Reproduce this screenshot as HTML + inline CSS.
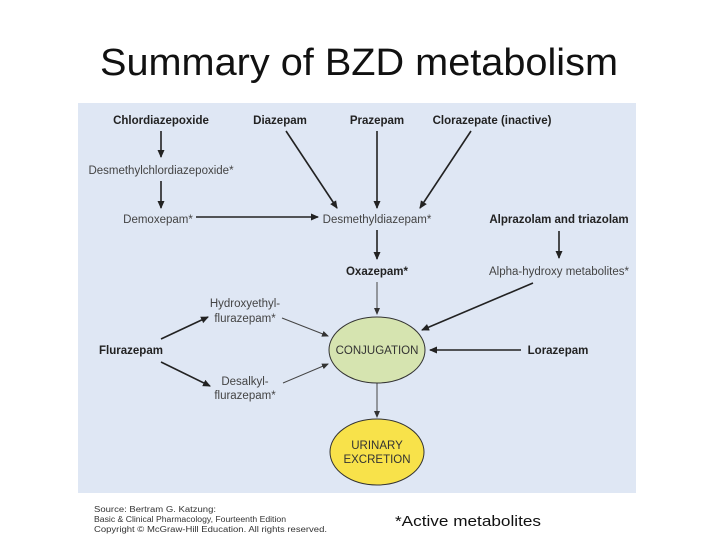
<!DOCTYPE html>
<html><head><meta charset="utf-8"><style>
body{margin:0;width:720px;height:540px;background:#fff;overflow:hidden}
</style></head><body>
<svg width="720" height="540" viewBox="0 0 720 540" xmlns="http://www.w3.org/2000/svg" font-family="Liberation Sans, sans-serif">
<defs>
<marker id="a" markerWidth="8" markerHeight="8" refX="7" refY="4" orient="auto" markerUnits="userSpaceOnUse"><path d="M0,0.5 L8,4 L0,7.5 Z" fill="#222"/></marker>
<marker id="b" markerWidth="7" markerHeight="7" refX="6" refY="3.5" orient="auto" markerUnits="userSpaceOnUse"><path d="M0,0.5 L7,3.5 L0,6.5 Z" fill="#333"/></marker>
</defs>
<text x="100" y="75" font-size="38" fill="#111" textLength="518" lengthAdjust="spacingAndGlyphs">Summary of BZD metabolism</text>
<rect x="78" y="103" width="558" height="390" fill="#dfe7f4"/>
<g font-size="11.5" fill="#222" text-anchor="middle">
<text x="161" y="124" font-weight="bold">Chlordiazepoxide</text>
<text x="280" y="124" font-weight="bold">Diazepam</text>
<text x="377" y="124" font-weight="bold">Prazepam</text>
<text x="492" y="124" font-weight="bold">Clorazepate (inactive)</text>
<text x="161" y="174" fill="#444">Desmethylchlordiazepoxide*</text>
<text x="158" y="223" fill="#444">Demoxepam*</text>
<text x="377" y="223" fill="#444">Desmethyldiazepam*</text>
<text x="559" y="223" font-weight="bold">Alprazolam and triazolam</text>
<text x="377" y="275" font-weight="bold">Oxazepam*</text>
<text x="559" y="275" fill="#444">Alpha-hydroxy metabolites*</text>
<text x="131" y="354" font-weight="bold">Flurazepam</text>
<text x="558" y="354" font-weight="bold">Lorazepam</text>
<text x="245" y="307" fill="#444">Hydroxyethyl-</text>
<text x="245" y="322" fill="#444">flurazepam*</text>
<text x="245" y="385" fill="#444">Desalkyl-</text>
<text x="245" y="399" fill="#444">flurazepam*</text>
</g>
<g stroke="#222" stroke-width="1.6" fill="none" marker-end="url(#a)">
<line x1="161" y1="131" x2="161" y2="157"/>
<line x1="161" y1="181" x2="161" y2="208"/>
<line x1="196" y1="217" x2="318" y2="217"/>
<line x1="286" y1="131" x2="337" y2="208"/>
<line x1="377" y1="131" x2="377" y2="208"/>
<line x1="471" y1="131" x2="420" y2="208"/>
<line x1="559" y1="231" x2="559" y2="258"/>
<line x1="377" y1="230" x2="377" y2="259"/>
<line x1="533" y1="283" x2="422" y2="330"/>
<line x1="521" y1="350" x2="430" y2="350"/>
<line x1="161" y1="339" x2="208" y2="317"/>
<line x1="161" y1="362" x2="210" y2="386"/>
</g>
<g stroke="#444" stroke-width="1" fill="none" marker-end="url(#b)">
<line x1="377" y1="282" x2="377" y2="314"/>
<line x1="282" y1="318" x2="328" y2="336"/>
<line x1="283" y1="383" x2="328" y2="364"/>
<line x1="377" y1="383" x2="377" y2="417"/>
</g>
<ellipse cx="377" cy="350" rx="48" ry="33" fill="#d6e4b0" stroke="#333" stroke-width="1"/>
<text x="377" y="354" text-anchor="middle" font-size="11.5" fill="#333">CONJUGATION</text>
<ellipse cx="377" cy="452" rx="47" ry="33" fill="#f8e24a" stroke="#333" stroke-width="1"/>
<text x="377" y="449" text-anchor="middle" font-size="11.5" fill="#333">URINARY</text>
<text x="377" y="463" text-anchor="middle" font-size="11.5" fill="#333">EXCRETION</text>
<g font-size="8" fill="#333">
<text x="94" y="512" textLength="122" lengthAdjust="spacingAndGlyphs">Source: Bertram G. Katzung:</text>
<text x="94" y="522" textLength="192" lengthAdjust="spacingAndGlyphs">Basic &amp; Clinical Pharmacology, Fourteenth Edition</text>
<text x="94" y="532" textLength="233" lengthAdjust="spacingAndGlyphs">Copyright © McGraw-Hill Education. All rights reserved.</text>
</g>
<text x="395" y="526" font-size="15" fill="#111" textLength="146" lengthAdjust="spacingAndGlyphs">*Active metabolites</text>
</svg>
</body></html>
